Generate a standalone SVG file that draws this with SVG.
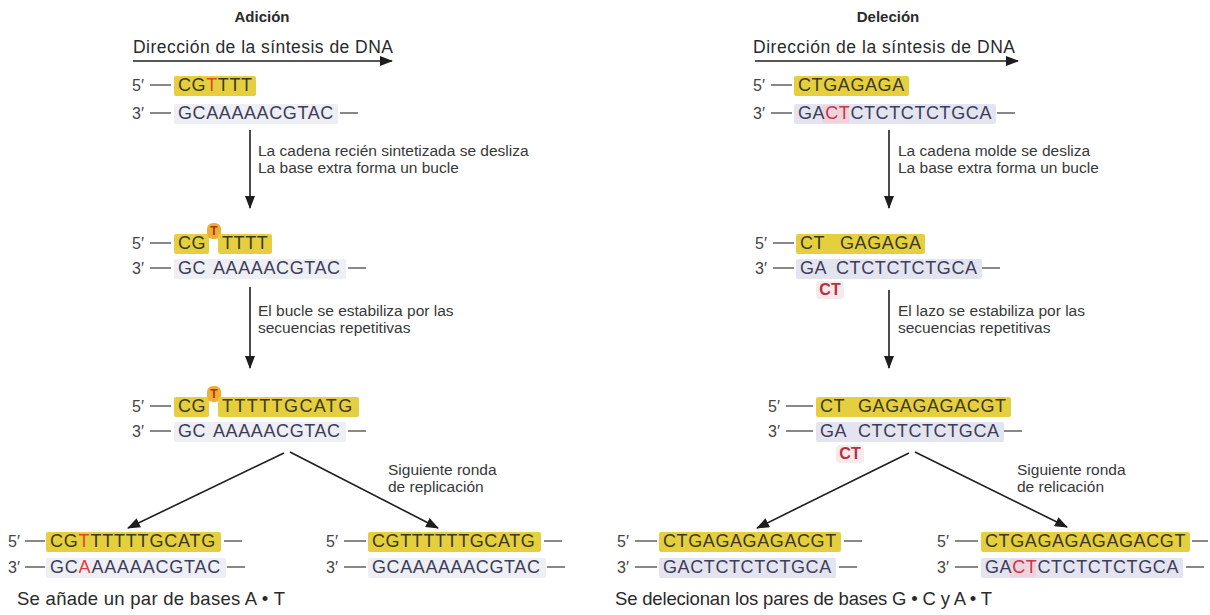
<svg xmlns="http://www.w3.org/2000/svg" width="1210" height="615" viewBox="0 0 1210 615">
<defs>
<marker id="ah" markerUnits="userSpaceOnUse" markerWidth="13" markerHeight="10" refX="12" refY="5" orient="auto">
<path d="M0,0 L13,5 L0,10 z" fill="#1e1e1e"/>
</marker>
</defs>
<style>
.t{font-family:"Liberation Sans",Arial,sans-serif;fill:#2a2a2a}
.ttl{font-size:15px;font-weight:bold}
.dir{font-size:17.5px}
.lab{font-size:15.5px;fill:#383838}
.cap{font-size:18.5px}
.end{font-size:16px;fill:#444}
.seq{font-family:"Liberation Sans",Arial,sans-serif;font-size:18px;letter-spacing:0.6px;fill:#3b3a22}
.tpl{font-family:"Liberation Sans",Arial,sans-serif;font-size:18px;letter-spacing:0.6px;fill:#3d3d58}
.red{fill:#e0481f}
.crim{fill:#c9344a}
.hl{fill:#e6cf3e}
.lv{fill:#e4e4f0}
.lvl{fill:#eeeef5}
.pk{fill:#f8e9ec}
.pk2{fill:#eed3dc}
.dash{stroke:#555;stroke-width:1.4}
.bulge{fill:#f0ac34}
.bt{font-family:"Liberation Sans",Arial,sans-serif;font-size:12px;font-weight:bold;fill:#a8330c}
.loop{font-family:"Liberation Sans",Arial,sans-serif;font-size:16px;font-weight:bold;fill:#b8303f}
.conn{stroke:#1e1e1e;stroke-width:1.6;fill:none}
</style>
<rect width="1210" height="615" fill="#ffffff"/>

<!-- Titles -->
<g id="title-adicion">
<text class="t ttl" x="262" y="22" text-anchor="middle">Adición</text>
<text class="t dir" x="133" y="53" textLength="260">Dirección de la síntesis de DNA</text>
</g>
<g id="title-delecion">
<text class="t ttl" x="888" y="22" text-anchor="middle">Deleción</text>
<text class="t dir" x="753" y="53" textLength="262">Dirección de la síntesis de DNA</text>
</g>

<!-- LEFT: Adición -->
<g id="add-1">
<text class="t end" x="132" y="91">5′</text><line class="dash" x1="150" y1="85" x2="171" y2="85"/>
<rect class="hl" x="174" y="76" width="82" height="20" rx="2"/>
<text class="seq" x="178" y="91">CG<tspan class="red">T</tspan>TTT</text>
<text class="t end" x="132" y="119">3′</text><line class="dash" x1="150" y1="113" x2="171" y2="113"/>
<rect class="lvl" x="174" y="104" width="164" height="20" rx="2"/>
<text class="tpl" x="178" y="119">GCAAAAACGTAC</text><line class="dash" x1="340" y1="113" x2="358" y2="113"/>
</g>

<g id="add-2">
<text class="t end" x="132" y="249">5′</text><line class="dash" x1="150" y1="243" x2="171" y2="243"/>
<rect class="hl" x="174" y="234" width="35" height="20" rx="2"/>
<rect class="bulge" x="207" y="223" width="14" height="16" rx="6"/>
<text class="bt" x="214" y="235" text-anchor="middle">T</text>
<rect class="hl" x="218" y="234" width="54" height="20" rx="2"/>
<text class="seq" x="178" y="249">CG</text>
<text class="seq" x="222" y="249">TTTT</text>
<text class="t end" x="132" y="274">3′</text><line class="dash" x1="150" y1="268" x2="171" y2="268"/>
<rect class="lvl" x="174" y="259" width="172" height="20" rx="2"/>
<text class="tpl" x="178" y="274">GC</text>
<text class="tpl" x="213" y="274">AAAAACGTAC</text><line class="dash" x1="348" y1="268" x2="366" y2="268"/>
</g>

<g id="add-3">
<text class="t end" x="132" y="412">5′</text><line class="dash" x1="150" y1="406" x2="171" y2="406"/>
<rect class="hl" x="174" y="397" width="35" height="20" rx="2"/>
<rect class="bulge" x="207" y="386" width="14" height="16" rx="6"/>
<text class="bt" x="214" y="398" text-anchor="middle">T</text>
<rect class="hl" x="218" y="397" width="141" height="20" rx="2"/>
<text class="seq" x="178" y="412">CG</text>
<text class="seq" x="222" y="412" style="letter-spacing:1.4px">TTTTTGCATG</text>
<text class="t end" x="132" y="437">3′</text><line class="dash" x1="150" y1="431" x2="171" y2="431"/>
<rect class="lvl" x="174" y="422" width="172" height="20" rx="2"/>
<text class="tpl" x="178" y="437">GC</text>
<text class="tpl" x="213" y="437">AAAAACGTAC</text><line class="dash" x1="348" y1="431" x2="366" y2="431"/>
</g>

<g id="add-result-mutant">
<text class="t end" x="8" y="547">5′</text><line class="dash" x1="25" y1="541" x2="45" y2="541"/>
<rect class="hl" x="46" y="532" width="175" height="20" rx="2"/>
<text class="seq" x="50" y="547" style="letter-spacing:0.8px">CG<tspan class="red">T</tspan>TTTTTGCATG</text><line class="dash" x1="224" y1="541" x2="242" y2="541"/>
<text class="t end" x="8" y="573">3′</text><line class="dash" x1="25" y1="567" x2="45" y2="567"/>
<rect class="lvl" x="46" y="558" width="180" height="20" rx="2"/>
<text class="tpl" x="50" y="573" style="letter-spacing:0.8px">GC<tspan fill="#e53c3c">A</tspan>AAAAACGTAC</text><line class="dash" x1="227" y1="567" x2="245" y2="567"/>
<text class="t cap" x="17" y="605" textLength="268">Se añade un par de bases A • T</text>
</g>

<g id="add-result-normal">
<text class="t end" x="326" y="547">5′</text><line class="dash" x1="344" y1="541" x2="366" y2="541"/>
<rect class="hl" x="368" y="532" width="173" height="20" rx="2"/>
<text class="seq" x="372" y="547">CGTTTTTTGCATG</text><line class="dash" x1="544" y1="541" x2="562" y2="541"/>
<text class="t end" x="326" y="573">3′</text><line class="dash" x1="344" y1="567" x2="366" y2="567"/>
<rect class="lvl" x="368" y="558" width="178" height="20" rx="2"/>
<text class="tpl" x="372" y="573">GCAAAAAACGTAC</text><line class="dash" x1="547" y1="567" x2="565" y2="567"/>
</g>

<!-- RIGHT: Deleción -->
<g id="del-1">
<text class="t end" x="753" y="91">5′</text><line class="dash" x1="771" y1="85" x2="792" y2="85"/>
<rect class="hl" x="794" y="76" width="115" height="20" rx="2"/>
<text class="seq" x="798" y="91">CTGAGAGA</text>
<text class="t end" x="753" y="119">3′</text><line class="dash" x1="771" y1="113" x2="792" y2="113"/>
<rect class="lv" x="794" y="104" width="202" height="20" rx="2"/>
<rect class="pk2" x="822" y="105" width="27" height="18" rx="2"/>
<text class="tpl" x="798" y="119">GA<tspan class="crim">CT</tspan>CTCTCTCTGCA</text><line class="dash" x1="997" y1="113" x2="1015" y2="113"/>
</g>

<g id="del-2">
<text class="t end" x="755" y="249">5′</text><line class="dash" x1="773" y1="243" x2="794" y2="243"/>
<rect class="hl" x="796" y="234" width="129" height="20" rx="2"/>
<text class="seq" x="800" y="249">CT</text>
<text class="seq" x="840" y="249">GAGAGA</text>
<text class="t end" x="755" y="274">3′</text><line class="dash" x1="773" y1="268" x2="794" y2="268"/>
<rect class="lv" x="796" y="259" width="186" height="20" rx="2"/>
<text class="tpl" x="800" y="274">GA</text>
<text class="tpl" x="836" y="274">CTCTCTCTGCA</text><line class="dash" x1="982" y1="268" x2="1000" y2="268"/>
<rect class="pk" x="816" y="281" width="28" height="18" rx="4"/>
<text class="loop" x="830" y="295" text-anchor="middle">CT</text>
</g>

<g id="del-3">
<text class="t end" x="768" y="412">5′</text><line class="dash" x1="786" y1="406" x2="813" y2="406"/>
<rect class="hl" x="816" y="397" width="195" height="20" rx="2"/>
<text class="seq" x="820" y="412">CT</text>
<text class="seq" x="858" y="412">GAGAGAGACGT</text>
<text class="t end" x="768" y="437">3′</text><line class="dash" x1="786" y1="431" x2="813" y2="431"/>
<rect class="lv" x="816" y="422" width="188" height="20" rx="2"/>
<text class="tpl" x="820" y="437">GA</text>
<text class="tpl" x="858" y="437">CTCTCTCTGCA</text><line class="dash" x1="1004" y1="431" x2="1022" y2="431"/>
<rect class="pk" x="836" y="445" width="28" height="18" rx="4"/>
<text class="loop" x="850" y="459" text-anchor="middle">CT</text>
</g>

<g id="del-result-mutant">
<text class="t end" x="617" y="547">5′</text><line class="dash" x1="635" y1="541" x2="657" y2="541"/>
<rect class="hl" x="659" y="532" width="182" height="20" rx="2"/>
<text class="seq" x="663" y="547">CTGAGAGAGACGT</text><line class="dash" x1="844" y1="541" x2="862" y2="541"/>
<text class="t end" x="617" y="573">3′</text><line class="dash" x1="635" y1="567" x2="657" y2="567"/>
<rect class="lv" x="659" y="558" width="177" height="20" rx="2"/>
<text class="tpl" x="663" y="573">GACTCTCTCTGCA</text><line class="dash" x1="839" y1="567" x2="857" y2="567"/>
<text class="t cap" x="615" y="605" textLength="377">Se delecionan los pares de bases G • C y A • T</text>
</g>

<g id="del-result-normal">
<text class="t end" x="937" y="547">5′</text><line class="dash" x1="955" y1="541" x2="978" y2="541"/>
<rect class="hl" x="981" y="532" width="209" height="20" rx="2"/>
<text class="seq" x="985" y="547">CTGAGAGAGAGACGT</text><line class="dash" x1="1192" y1="541" x2="1208" y2="541"/>
<text class="t end" x="937" y="573">3′</text><line class="dash" x1="955" y1="567" x2="978" y2="567"/>
<rect class="lv" x="981" y="558" width="202" height="20" rx="2"/>
<rect class="pk2" x="1009" y="559" width="27" height="18" rx="2"/>
<text class="tpl" x="985" y="573">GA<tspan class="crim">CT</tspan>CTCTCTCTGCA</text><line class="dash" x1="1186" y1="567" x2="1204" y2="567"/>
</g>

<!-- Connectors -->
<g id="connectors">
<line class="conn" x1="133" y1="61" x2="392" y2="61" marker-end="url(#ah)"/>
<line class="conn" x1="755" y1="61" x2="1018" y2="61" marker-end="url(#ah)"/>
<line class="conn" x1="250" y1="130" x2="250" y2="208" marker-end="url(#ah)"/>
<line class="conn" x1="250" y1="287" x2="250" y2="368" marker-end="url(#ah)"/>
<line class="conn" x1="889" y1="130" x2="889" y2="208" marker-end="url(#ah)"/>
<line class="conn" x1="889" y1="290" x2="889" y2="368" marker-end="url(#ah)"/>
<line class="conn" x1="284" y1="453" x2="128" y2="528" marker-end="url(#ah)"/>
<line class="conn" x1="290" y1="452" x2="438" y2="528" marker-end="url(#ah)"/>
<line class="conn" x1="909" y1="453" x2="757" y2="528" marker-end="url(#ah)"/>
<line class="conn" x1="915" y1="452" x2="1067" y2="527" marker-end="url(#ah)"/>
</g>

<g id="labels">
<text class="t lab" x="258" y="156">La cadena recién sintetizada se desliza</text>
<text class="t lab" x="258" y="173">La base extra forma un bucle</text>
<text class="t lab" x="258" y="316">El bucle se estabiliza por las</text>
<text class="t lab" x="258" y="333">secuencias repetitivas</text>
<text class="t lab" x="388" y="475">Siguiente ronda</text>
<text class="t lab" x="388" y="492">de replicación</text>
<text class="t lab" x="898" y="156">La cadena molde se desliza</text>
<text class="t lab" x="898" y="173">La base extra forma un bucle</text>
<text class="t lab" x="898" y="316">El lazo se estabiliza por las</text>
<text class="t lab" x="898" y="333">secuencias repetitivas</text>
<text class="t lab" x="1017" y="475">Siguiente ronda</text>
<text class="t lab" x="1017" y="492">de relicación</text>
</g>
</svg>
